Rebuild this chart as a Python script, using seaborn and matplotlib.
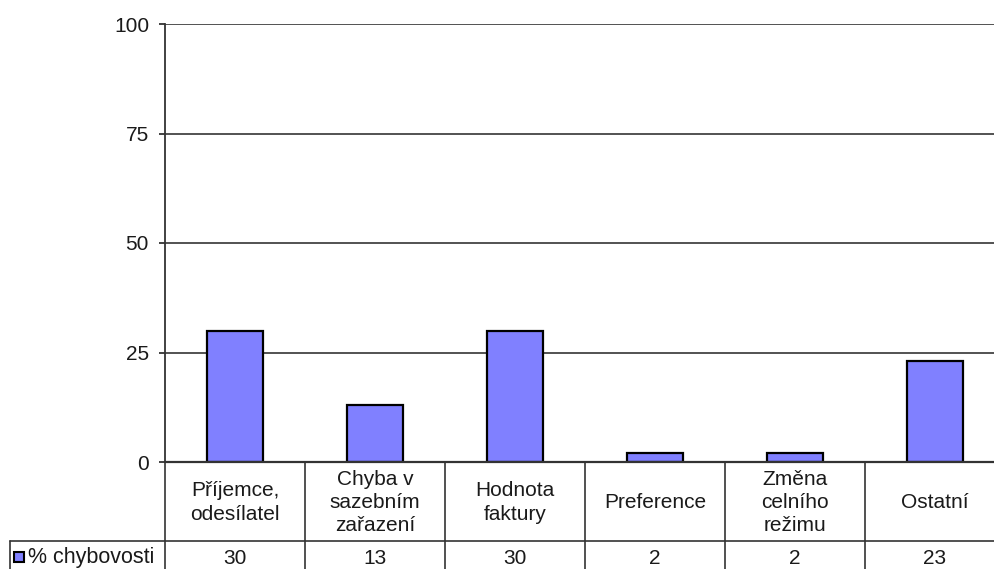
import matplotlib
matplotlib.use("Agg")
import matplotlib.pyplot as plt
import seaborn as sns
import pandas as pd
from matplotlib.transforms import blended_transform_factory
from matplotlib.patches import Rectangle

categories = ["Příjemce,\nodesílatel", "Chyba v\nsazebním\nzařazení", "Hodnota\nfaktury",
              "Preference", "Změna\ncelního\nrežimu", "Ostatní"]
values = [30, 13, 30, 2, 2, 23]
series_name = "% chybovosti"
y_ticks = [0, 25, 50, 75, 100]

sns.set_theme(style="white")
plt.rcParams["font.family"] = ["Liberation Sans", "DejaVu Sans"]

FS = 15
TXT = "#1a1a1a"
W, H = 994, 569
fig = plt.figure(figsize=(W / 100, H / 100), dpi=100)
x0, x1 = 165, 165 + 6 * 140
y_top, y_zero = 24, 462
ax = fig.add_axes([x0 / W, 1 - y_zero / H, (x1 - x0) / W, (y_zero - y_top) / H])

df = pd.DataFrame({"kategorie": categories, "hodnota": values})
sns.barplot(data=df, x="kategorie", y="hodnota", ax=ax, color="#8080FF",
            saturation=1, width=0.4, edgecolor="black", linewidth=1.6, zorder=3)

ax.set_xlim(-0.5, len(categories) - 0.5)
ax.set_ylim(0, 100)
ax.set_yticks(y_ticks)
ax.set_yticklabels([str(t) for t in y_ticks], fontsize=FS, color=TXT)
ax.yaxis.grid(True, color="#444444", linewidth=1.3, zorder=0)
ax.set_xticks([])
ax.set_xlabel("")
ax.set_ylabel("")
for s in ["top", "right", "bottom"]:
    ax.spines[s].set_visible(False)
ax.spines["left"].set_color("#333333")
ax.spines["left"].set_linewidth(1.3)
ax.tick_params(axis="y", which="major", left=True, length=4.5, width=1.3,
               color="#333333", pad=7)
ax.axhline(0, color="#333333", linewidth=1.6, zorder=4, clip_on=False)

# data table under the axis
tr = blended_transform_factory(ax.transData, fig.transFigure)
def fy(py):
    return 1 - py / H

row_sep = 541
line_kw = dict(color="#333333", linewidth=1.2, clip_on=False)
for i in range(1, len(categories)):
    ax.plot([i - 0.5, i - 0.5], [fy(y_zero), fy(H + 5)], transform=tr, **line_kw)
fig.lines.append(plt.Line2D([10 / W, 1.05], [fy(row_sep), fy(row_sep)],
                            transform=fig.transFigure, color="#333333", linewidth=1.2))
fig.lines.append(plt.Line2D([10 / W, 10 / W], [fy(row_sep), fy(H + 5)],
                            transform=fig.transFigure, color="#333333", linewidth=1.2))
fig.lines.append(plt.Line2D([x0 / W, x0 / W], [fy(y_zero), fy(H + 5)],
                            transform=fig.transFigure, color="#333333", linewidth=1.2))

for i, (c, v) in enumerate(zip(categories, values)):
    ax.text(i, fy((y_zero + row_sep) / 2 + 1), c, transform=tr, ha="center", va="center",
            fontsize=FS, color=TXT, linespacing=1.27)
    ax.text(i, fy(558), str(v), transform=tr, ha="center", va="center",
            fontsize=FS, color=TXT)

fig.patches.append(Rectangle((14 / W, fy(562)), 10 / W, 10 / H, transform=fig.transFigure,
                             facecolor="#8080FF", edgecolor="black", linewidth=1.5))
fig.text(28 / W, fy(557), series_name, ha="left", va="center", fontsize=15.5, color=TXT)

fig.savefig("out.png", dpi=100)
